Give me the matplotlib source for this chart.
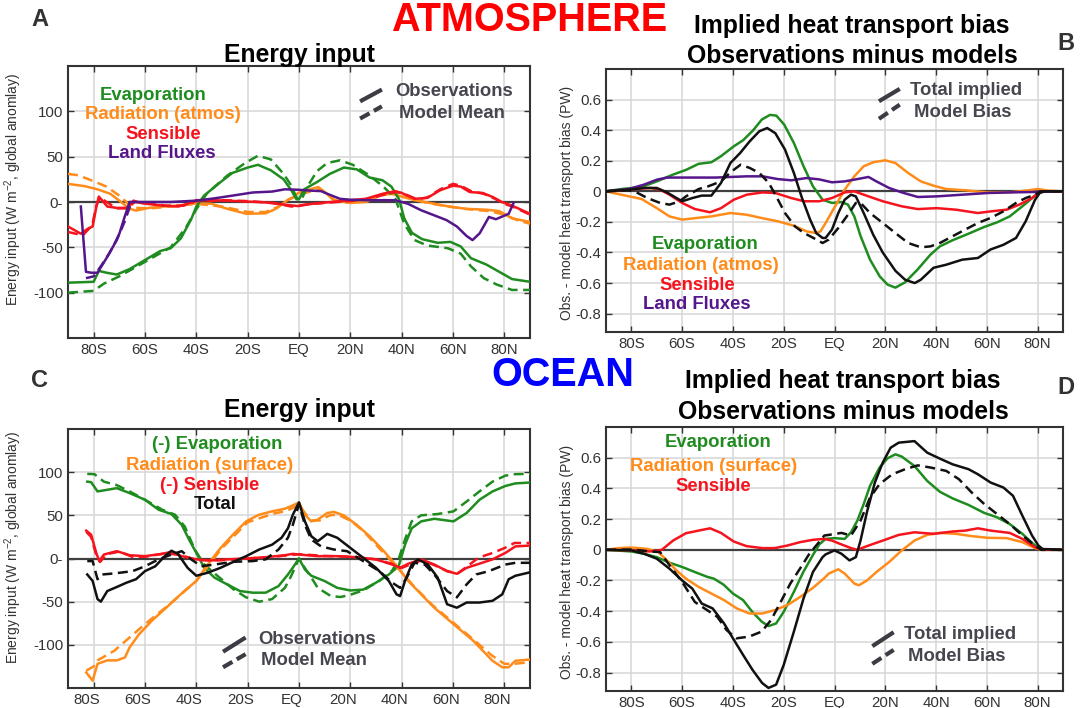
import matplotlib
matplotlib.use("Agg")
import matplotlib.pyplot as plt
import matplotlib.transforms as mtransforms

plt.rcParams['font.family'] = ['Liberation Sans', 'DejaVu Sans']
plt.rcParams['mathtext.fontset'] = 'custom'
plt.rcParams['mathtext.rm'] = 'Liberation Sans'
plt.rcParams['mathtext.it'] = 'Liberation Sans:italic'

GREEN = "#1f8c1f"
ORANGE = "#ff8c1a"
RED = "#f5141e"
PURPLE = "#55168c"
BLACK = "#111111"
GRAY = "#46464e"

lat_ticks = [-80, -60, -40, -20, 0, 20, 40, 60, 80]
lat_labels = ["80S", "60S", "40S", "20S", "EQ", "20N", "40N", "60N", "80N"]

# ---------------- Panel A : atmosphere energy input (W m-2) ----------------
A_evap_obs_lat = [-90, -80, -78, -75, -71, -66, -60, -54, -50, -46, -42, -40, -37, -31, -26, -20, -16, -11, -6, -3, -1, 0, 2,
                  7, 12, 17.5, 22.5, 27.5, 32.5, 36, 39, 41, 44, 48, 54, 59, 63, 67, 73, 78, 83, 90]
A_evap_obs = [-89, -88, -76, -78, -80, -74, -64, -54, -51, -40, -19, -5, 7, 21, 32, 38, 41, 35, 25, 13, 3, 3, 14,
              22, 31, 38, 36, 27, 24, 17, 3, -18, -34, -41, -45, -44, -49, -62, -69, -77, -85, -88]
A_evap_mod_lat = [-90, -80, -76, -70, -60, -50, -44, -40, -36, -28, -21, -16, -11, -6, -3, -1, 1, 3.5, 7, 11, 16, 21,
                  26.5, 32.5, 37.5, 41, 45, 50, 58, 63, 67, 72, 77, 83, 90]
A_evap_mod = [-100, -98, -90, -82, -66, -50, -28, -8, 9, 29, 43, 51, 47, 31, 18, 5, 3, 18, 34, 43, 46, 41,
              31, 18, 4, -24, -42, -48, -51, -57, -71, -84, -91, -97, -97]
A_rad_obs_lat = [-90, -83.5, -78.5, -73.5, -70, -66, -63.5, -58.5, -53, -47, -40, -34, -28, -20.5, -13, -9, -4.5, -2.5,
                 -0.3, 5, 7.5, 10, 13.5, 20, 26, 31, 36, 40, 45, 51, 57.5, 65, 73, 78, 83, 90]
A_rad_obs = [20, 17.5, 14, 9, 1.5, -7.5, -9.5, -6.5, -5, -4, -1.5, -2, -7.5, -13, -12.5, -7.5, 2, 4.5,
             10, 14.5, 16.5, 11, 2, -1, 0, 7, 9, 6, 2, -1, -4.5, -7.5, -8.5, -10, -18, -22]
A_rad_mod_lat = [-90, -86, -81, -75, -70, -66.5, -63.5, -58, -50, -40, -30, -20, -13, -8, -4, 0, 5, 8, 11, 14, 20,
                 27, 32, 37, 42, 50, 58, 66, 74, 80, 85, 90]
A_rad_mod = [31, 29.5, 24, 17, 7, -2, -6.5, -7, -5, -2, -5, -11, -11, -5, 3, 8, 12, 14, 9, 2, -1,
             1, 8, 11, 5, -1, -5, -8, -10, -14, -20, -24]
A_sens_obs_lat = [-90, -87.5, -85, -82.3, -80.4, -79, -78, -76.6, -74.7, -71, -67, -64.5, -61, -53, -47, -43.5, -40,
                  -34, -28, -20.5, -13, -5.5, -0.3, 5, 12.5, 20, 26, 32.5, 37.5, 40, 45, 50, 55, 60, 63, 66.5, 71.5,
                  75.5, 79, 83, 90]
A_sens_obs = [-27, -31, -35, -29.5, -27, -6, 6, 1.5, -5, -6.5, -6.5, 1.5, -1.5, -4, -5, -2, 2,
              2, 1.5, 0.5, -0.5, -3, -4.5, -2, 0, 2, 3.5, 9, 12, 10, 3.5, 4.5, 13, 18, 17, 11, 10,
              5.5, 0, -4, -13]
A_sens_mod_lat = [-90, -87, -84, -82, -80.5, -79, -77.5, -75, -71, -67, -64, -60, -52, -45, -40, -30, -20, -10, -3, 2,
                  10, 20, 28, 33, 38, 41, 46, 50, 55, 60, 63, 67, 72, 76, 80, 84, 90]
A_sens_mod = [-33, -35, -36, -30, -25, -4, 5, 0, -7, -7, 0, -1, -4, -4, 1, 2, 1, -1, -5, -3,
              -1, 1, 4, 8, 11, 9, 3, 5, 14, 20, 18, 12, 9, 4, -2, -6, -14]
A_land_obs_lat = [-85, -83, -81, -78.5, -74.7, -72.2, -70, -68, -66, -60, -50, -40, -33, -26, -18, -10.5, -5.5, -0.3,
                  4.8, 8.6, 12.4, 16, 20, 26, 32.5, 37.5, 42.5, 47.5, 52.5, 57.5, 61.5, 65.3, 67.6, 70.4, 74, 76.7,
                  79.2, 81.7, 83.6]
A_land_obs = [-5, -77, -78, -78, -60.5, -48, -35, -17, 0, 0, 0, 1.5, 4, 7, 10.5, 11.5, 14, 13.5,
              12.5, 12, 7.5, 3.5, 2.5, 2, 2, 2, -2, -9, -14.5, -20, -27, -37.5, -42, -34.5, -16.5, -19,
              -16, -13, -1]
A_land_mod_lat = [-83, -80, -77, -74, -71, -68, -65.5]
A_land_mod = [-84, -82, -70, -57, -42, -22, -2]

# ---------------- Panel B : atmosphere implied heat transport bias (PW) ----------------
B_evap_lat = [-90, -84, -76, -70, -63.5, -58.5, -53.5, -48.5, -44.7, -39.7, -36, -32, -28.6, -25.4, -22.9, -19.8, -16,
              -12.2, -8.5, -4.7, -1, 2.75, 5.3, 7.8, 10.3, 14, 17.8, 20.9, 24, 27.8, 32.8, 37.8, 41.5, 46.5, 52.8,
              59, 64, 69, 74, 79, 81, 83, 90]
B_evap = [0, 0.015, 0.028, 0.065, 0.11, 0.14, 0.18, 0.19, 0.23, 0.294, 0.334, 0.40, 0.47, 0.50, 0.495, 0.436, 0.316,
          0.164, 0.033, -0.055, -0.076, -0.07, -0.087, -0.164, -0.294, -0.447, -0.556, -0.61, -0.63, -0.595, -0.51,
          -0.414, -0.36, -0.32, -0.277, -0.233, -0.203, -0.164, -0.098, -0.028, -0.007, 0, 0]
B_rad_lat = [-90, -84, -76, -70, -65, -60, -54.7, -48.5, -41, -34.6, -28.6, -22.3, -16, -11, -7.2, -5.5, -3.5, 0.25,
             4, 7.8, 11.5, 15.25, 20, 24, 29, 34, 39, 44, 51.5, 60, 69, 76.5, 80, 84, 90]
B_rad = [0, -0.022, -0.05, -0.11, -0.164, -0.185, -0.175, -0.164, -0.142, -0.153, -0.175, -0.196, -0.225, -0.262,
         -0.273, -0.262, -0.207, -0.098, 0.011, 0.098, 0.164, 0.19, 0.203, 0.185, 0.12, 0.065, 0.037, 0.015, 0.007,
         -0.007, -0.007, 0.007, 0.015, 0.005, 0]
B_sens_lat = [-90, -84, -78.7, -72.4, -68.7, -65, -60, -55, -49, -44.7, -39.7, -34.6, -28.3, -23.3, -17, -12, -6, -1,
              4, 7.8, 11.5, 19, 26.5, 32.8, 40.3, 47.8, 56.5, 61.6, 67.8, 72.8, 77.8, 80.3, 83, 90]
B_sens = [0, 0.007, 0.015, 0.022, 0.011, -0.022, -0.076, -0.116, -0.137, -0.11, -0.055, -0.022, -0.007, -0.011,
          -0.044, -0.065, -0.065, -0.044, -0.007, 0, -0.022, -0.065, -0.098, -0.116, -0.11, -0.12, -0.142, -0.131,
          -0.12, -0.087, -0.044, -0.011, 0, 0]
B_land_lat = [-90, -81, -75, -70, -66, -60, -47, -34.6, -28.3, -22.3, -17, -11, -6, -1, 4, 9, 13.4, 16.5, 21.5, 26.5,
              32.8, 40.3, 50.3, 60.4, 69, 80, 90]
B_land = [0, 0.015, 0.044, 0.076, 0.09, 0.09, 0.09, 0.098, 0.098, 0.08, 0.072, 0.087, 0.078, 0.059, 0.065, 0.08,
          0.094, 0.065, 0.022, -0.007, -0.037, -0.033, -0.022, -0.011, -0.007, -0.004, 0]
B_tot_obs_lat = [-90, -81, -75, -70, -66, -62.2, -60, -56, -52.3, -48.5, -44.7, -41, -37.2, -33.4, -29.6, -26.5, -23.3,
                 -19.5, -16, -12.8, -9.6, -7.2, -4.7, -3.5, -1, 1.5, 4, 6.5, 8.4, 11.5, 15.25, 19, 24, 27.8, 31.6, 34,
                 39, 44, 50.3, 56.5, 61.5, 66.5, 71.5, 75.3, 79, 81, 83, 90]
B_tot_obs = [0, 0.011, 0.022, 0.022, -0.007, -0.044, -0.065, -0.044, -0.028, -0.028, 0.055, 0.185, 0.25, 0.327, 0.393,
             0.414, 0.38, 0.273, 0.12, -0.044, -0.185, -0.273, -0.305, -0.305, -0.25, -0.142, -0.055, -0.022, -0.033,
             -0.142, -0.284, -0.40, -0.52, -0.578, -0.6, -0.578, -0.5, -0.48, -0.447, -0.436, -0.38, -0.35, -0.305,
             -0.196, -0.055, -0.007, 0, 0]
B_tot_mod_lat = [-90, -81, -77.5, -73.7, -68.7, -65, -61, -58.5, -53.5, -49.7, -44.7, -41, -37, -33.4, -29.6, -25.9,
                 -23.3, -19.5, -15.6, -12, -8.3, -4.7, -2.3, 1.5, 5.3, 8.4, 10.3, 14, 19, 24, 29, 34, 37.8, 41.5, 46.5,
                 51.5, 56.5, 61.5, 66.5, 71.5, 75.3, 79, 81, 90]
B_tot_mod = [0, 0.007, -0.011, -0.044, -0.076, -0.087, -0.065, -0.033, 0.015, 0.033, 0.065, 0.124, 0.174, 0.153,
             0.12, 0.055, -0.022, -0.142, -0.229, -0.273, -0.305, -0.338, -0.316, -0.24, -0.153, -0.076, -0.076,
             -0.142, -0.207, -0.273, -0.338, -0.366, -0.36, -0.338, -0.294, -0.25, -0.207, -0.174, -0.131, -0.076,
             -0.044, -0.022, 0, 0]

# ---------------- Panel C : ocean energy input (W m-2) ----------------
C_evap_obs_lat = [-82.5, -81, -78.5, -74.7, -71, -66, -60, -54.7, -49.7, -45.7, -42.5, -40, -36.9, -33, -28, -23, -18,
                  -13, -8, -4.3, -2.5, 0, 2.3, 4.8, 9.9, 14.9, 20, 25, 30, 35, 38.8, 41.3, 43.9, 47.6, 52.7, 60.2,
                  65.3, 70.3, 75.4, 80.4, 84.3, 90]
C_evap_obs = [89, 88.5, 77.7, 79.6, 81.5, 75.8, 68, 56.5, 51.5, 39, 20, 6.5, -10.8, -22, -30, -37.7, -39.6,
              -39.6, -32, -18.5, -11, 0, -12.7, -20, -26, -34, -37, -36, -28, -18.5, -9, 16, 35, 43, 46, 43,
              52.7, 68, 77.7, 84, 87, 88]
C_evap_mod_lat = [-82.5, -79.7, -76, -71, -66, -60, -53.3, -48.3, -44.5, -40.6, -36.9, -31.8, -25.5, -20.6, -15.5,
                  -10.5, -5.5, -3, 0, 2.5, 4.8, 7.3, 12.4, 16.2, 20, 25, 31.3, 36.3, 38.8, 41.3, 43.9, 47.6, 54, 60.2,
                  65.3, 70.3, 75.4, 80.4, 84.3, 90]
C_evap_mod = [98, 97.7, 89, 85, 77.7, 68, 56.5, 50.7, 37, 10.4, -7, -20, -35.8, -45, -50,
              -47, -34, -20, 0, -12, -22, -34, -43.5, -44.6, -42, -37, -26, -14, -1, 22, 43, 50, 51.5, 54.6,
              66, 77.7, 89, 96, 97.7, 98]
C_rad_obs_lat = [-82.9, -80.4, -78.5, -74.7, -71, -67.8, -66, -62.3, -57.3, -51, -44.7, -40, -35.6, -30.6, -25.7,
                 -20.6, -15.6, -10.5, -5.5, -2.4, 0, 2.3, 4.8, 7.3, 11, 13.6, 17.4, 22.5, 27.5, 32.5, 37.6, 42.6,
                 47.6, 52.7, 60.2, 67.8, 75.4, 79.2, 81.7, 84.3, 90]
C_rad_obs = [-132, -141.5, -122, -118, -118, -114.6, -103, -87.7, -72, -55, -37.7, -26, -7, 12, 27.7,
             43, 50.7, 54.6, 57.7, 61.5, 65, 50.7, 43, 45, 52.7, 54, 50, 39, 25.8, 10.4, -7, -26,
             -41.5, -57, -76, -95, -118.5, -126, -126, -118.5, -117]
C_rad_mod_lat = [-82.9, -80, -78.5, -72, -66, -60, -50, -40, -30, -20, -10, -5, 0, 2.5, 5, 8, 12, 15, 20, 25, 30, 35,
                 40, 45, 52, 60, 68, 75, 80, 84, 90]
C_rad_mod = [-130, -125, -118, -107, -91.5, -76, -52, -26, 12, 42, 52, 55, 62, 52, 44, 44, 50, 51, 44, 32, 16, 0,
             -16, -33, -54, -74, -94, -112, -122, -122, -120]
C_sens_obs_lat = [-82.9, -81, -79, -77.8, -76, -71, -66, -60, -53.3, -49.7, -45.7, -40, -34.3, -28, -20.6, -13, -5.5,
                  -2.4, 0, 7.3, 14.9, 22.5, 30, 36.3, 39.4, 42.6, 47.6, 52.7, 57.7, 61.5, 65.3, 70.3, 75.4, 80.4,
                  84.3, 90]
C_sens_obs = [32.3, 27.7, 6.5, -3, 4.6, 8.5, 3.8, 2.7, 5.4, 7.7, 2.7, -1, -2.3, -1, 0, 1.5, 3.8,
              5.4, 4.6, 2.7, 2.7, 1.5, -1, -7, -10.8, -6, -1, -7, -14.6, -17.7, -10.8, -6, -1, 6.5,
              14, 15]
C_sens_mod_lat = [-82.9, -81, -79, -77.5, -75, -70, -65, -60, -52, -46, -40, -30, -20, -10, 0, 10, 20, 30, 36, 40, 44,
                  48, 53, 58, 62, 66, 70, 75, 80, 84, 90]
C_sens_mod = [31, 25, 4, -4, 5, 8, 2, 2, 6, 4, -2, -2, 0, 2, 5, 3, 2, -1, -6, -11, -6,
              -2, -8, -15, -17, -8, 1, 6, 12, 18, 18]
C_tot_obs_lat = [-82.5, -80.4, -78.5, -77.2, -74.7, -71, -67.2, -63.5, -60, -56, -52.3, -49.7, -47.2, -43.4, -40,
                 -35.6, -30.6, -25.5, -20.6, -15.5, -10.5, -6.8, -4.3, -2.4, 0, 2.3, 4.8, 7.3, 11, 14.9, 20, 25, 30,
                 35, 38, 39.4, 41.3, 43.9, 46.4, 50.2, 54, 57.7, 61.5, 65.3, 70.3, 75.4, 79.2, 81.7, 84.3, 90]
C_tot_obs = [-18.5, -26, -47, -50, -37.7, -33, -28, -24, -14.6, -9, 2.7, 9, 5.4, -10.8, -20,
             -16.5, -10.8, -3.8, 2.7, 10.4, 16, 24, 35, 50.7, 65, 43, 25.8, 20, 28.5, 24, 12.3, 0.8, -10.8,
             -26, -41.5, -43.5, -26, -7, -1, -7, -22, -53, -57, -51, -51, -49, -41.5, -24, -20, -16]
C_tot_mod_lat = [-82.5, -80.4, -78.5, -76.6, -73.5, -69.8, -64.8, -60, -54.7, -49.7, -45.7, -42, -38.1, -33, -25.5,
                 -18, -13, -8, -4.3, -2.4, 0, 2.3, 4.8, 8.6, 13.6, 18.7, 25, 31.3, 36.3, 39.4, 42, 45, 49, 52.7,
                 57.7, 61.5, 65.3, 69, 74, 80.4, 84.3, 90]
C_tot_mod = [-3, -3, -24, -18.5, -17.7, -16.5, -14.6, -9, -1, 4.6, 8.5, -1, -9, -7, -3.8,
             -3, -1, 10.4, 24, 39, 63, 39, 22, 14, 10.4, 8.5, -3, -14.6, -28, -34, -22, -5, -7, -18.5,
             -37.7, -45, -30, -18.5, -14.6, -7, -5, -5]

# ---------------- Panel D : ocean implied heat transport bias (PW) ----------------
D_evap_lat = [-90, -80, -75, -70, -65, -60, -55, -50, -47.5, -43.7, -40, -36, -32.4, -28.6, -26, -23, -20, -16, -12.3,
              -8.6, -6, -3.5, 0, 4, 6.5, 9, 11.5, 14, 17.75, 20.9, 24, 26.5, 31.5, 36.5, 41.5, 46.5, 52.8, 59, 64,
              69, 74, 77.8, 80.3, 81.4, 90]
D_evap = [0, -0.011, -0.026, -0.048, -0.084, -0.112, -0.145, -0.177, -0.188, -0.227, -0.285, -0.328, -0.404, -0.469,
          -0.497, -0.48, -0.404, -0.274, -0.145, -0.037, 0.035, 0.071, 0.076, 0.071, 0.114, 0.19, 0.298, 0.417,
          0.536, 0.596, 0.622, 0.607, 0.546, 0.449, 0.378, 0.335, 0.292, 0.24, 0.212, 0.168, 0.104, 0.045, 0.011,
          0, 0]
D_rad_lat = [-90, -85, -80, -73.7, -69.4, -66, -62.3, -58.5, -53.5, -48.5, -43.5, -38.5, -33.5, -28.5, -23.5, -18.5,
             -13.5, -8.5, -4, -2.25, 1.5, 4, 7.8, 9.6, 12.8, 16.5, 21.5, 26.5, 31.5, 36.5, 41.5, 47.8, 54, 60.4,
             67.8, 74, 79, 81.4, 90]
D_rad = [0, 0.011, 0.015, 0.006, -0.015, -0.069, -0.134, -0.188, -0.242, -0.285, -0.328, -0.382, -0.415, -0.415,
         -0.393, -0.36, -0.307, -0.248, -0.184, -0.155, -0.127, -0.155, -0.22, -0.231, -0.2, -0.145, -0.08, -0.004,
         0.06, 0.097, 0.11, 0.104, 0.089, 0.078, 0.076, 0.05, 0.011, 0, 0]
D_sens_lat = [-90, -80, -72.5, -68, -63.6, -58.5, -53.5, -49, -44.7, -39.7, -34.7, -28.5, -23.5, -18.5, -13.5, -8.5,
              -4, -1, 1.5, 6.5, 9, 12.8, 19, 25.3, 31.5, 39, 46.5, 51.5, 56.5, 61.5, 69, 74, 79, 81.4, 90]
D_sens = [0, -0.004, -0.011, 0, 0.06, 0.108, 0.125, 0.14, 0.11, 0.054, 0.024, 0.011, 0.011, 0.028, 0.05, 0.065,
          0.071, 0.06, 0.043, 0.011, 0, 0.024, 0.06, 0.097, 0.114, 0.104, 0.119, 0.125, 0.14, 0.125, 0.11, 0.071,
          0.017, 0, 0]
D_tot_obs_lat = [-90, -80, -75, -70, -65, -60, -56, -52.3, -48, -43.5, -40, -36, -32.3, -28.5, -26, -23, -20, -16,
                 -12.2, -8.5, -4.7, -3.5, 0, 2.75, 5.9, 8.4, 10.25, 12.75, 15.9, 19, 22.1, 25.3, 31.5, 36.5, 41.5,
                 46.5, 52.8, 56.5, 61.5, 66.5, 70.3, 74, 77.8, 80.3, 82, 90]
D_tot_obs = [0, -0.004, -0.026, -0.058, -0.123, -0.2, -0.253, -0.35, -0.382, -0.48, -0.577, -0.685, -0.782, -0.868,
             -0.9, -0.879, -0.75, -0.533, -0.317, -0.145, -0.048, -0.03, -0.004, -0.026, -0.069, -0.048, 0.06, 0.244,
             0.438, 0.568, 0.665, 0.698, 0.708, 0.633, 0.594, 0.557, 0.525, 0.492, 0.438, 0.406, 0.352, 0.222,
             0.093, 0.028, 0.005, 0]
D_tot_mod_lat = [-90, -80, -72.5, -68.7, -65, -60, -55, -51.2, -46.2, -42.5, -38.7, -33.7, -28.7, -25, -21.2, -17.4,
                 -13.6, -9.9, -6.1, -4, -2.25, 2.75, 6.5, 10.25, 14, 17.75, 22.75, 27.8, 32.8, 37.8, 44, 49, 54, 59,
                 64, 69, 74, 79, 81.4, 90]
D_tot_mod = [0, 0.002, -0.011, -0.015, -0.1, -0.21, -0.34, -0.382, -0.436, -0.523, -0.577, -0.566, -0.533, -0.458,
             -0.34, -0.22, -0.123, -0.026, 0.05, 0.093, 0.097, 0.11, 0.093, 0.19, 0.341, 0.428, 0.492, 0.525, 0.55,
             0.536, 0.514, 0.46, 0.374, 0.298, 0.233, 0.168, 0.093, 0.028, 0, 0]

W, H = 1083, 708
LW = 1.8
DASH = (4, 2.2)


def px_axes(left, top, right, bottom):
    return [left / W, 1 - bottom / H, (right - left) / W, (bottom - top) / H]


def style_axes(ax, ylim, yticks, yticklabels, ylabel, label_xy):
    ax.set_xlim(-90, 90)
    ax.set_ylim(ylim)
    ax.set_xticks(lat_ticks)
    ax.set_xticklabels(lat_labels)
    ax.set_yticks(yticks)
    ax.set_yticklabels(yticklabels)
    ax.grid(True, color="#d6d6d6", lw=1.1)
    ax.set_axisbelow(True)
    ax.axhline(0, color="#404040", lw=1.6, zorder=1.5)
    for sp in ax.spines.values():
        sp.set_color("#333333")
        sp.set_linewidth(1.5)
    ax.tick_params(direction="in", length=4, width=1, color="#333333", labelcolor="#333333",
                   top=True, right=True, labelsize=10.8, pad=3.5)
    ax.set_ylabel(ylabel, fontsize=10, color="#333333")
    ax.yaxis.set_label_coords(*label_xy)


def line(ax, x, y, color, dashed=False):
    if dashed:
        ax.plot(x, y, color=color, lw=LW, dashes=DASH, zorder=3)
    else:
        ax.plot(x, y, color=color, lw=LW, zorder=3)


def key(ax, x0, x1, ys, yd, ytext, labels, xtext):
    ax.plot([x0, x1], ys, color="#3c3c44", lw=3, solid_capstyle="butt", zorder=4)
    ax.plot([x0, x1], yd, color="#3c3c44", lw=3, dashes=(2.6, 1.2), dash_capstyle="butt", zorder=4)
    for xt, yt, t in zip(xtext, ytext, labels):
        ax.text(xt, yt, t, color=GRAY, fontsize=13.3, fontweight="bold", ha="center", va="center", zorder=5)


def names(ax, items):
    for x, y, t, c in items:
        ax.text(x, y, t, color=c, fontsize=13.3, fontweight="bold", ha="center", va="center", zorder=5)


fig = plt.figure(figsize=(W / 100, H / 100), dpi=100)
axA = fig.add_axes(px_axes(68, 66, 530, 338))
axB = fig.add_axes(px_axes(606, 69, 1063, 332))
axC = fig.add_axes(px_axes(68, 429, 530, 688))
axD = fig.add_axes(px_axes(606, 427, 1063, 691))

ei_label = "Energy input (W m$^{-2}$, global anomlay)"
ht_label = "Obs. - model heat transport bias (PW)"
ei_ticks = [-100, -50, 0, 50, 100]
ei_ticklabels = ["-100", "-50", "0-", "50", "100"]
ht_ticks = [-0.8, -0.6, -0.4, -0.2, 0, 0.2, 0.4, 0.6]
ht_ticklabels = ["-0.8", "-0.6", "-0.4", "-0.2", "0", "0.2", "0.4", "0.6"]

style_axes(axA, (-150, 150), ei_ticks, ei_ticklabels, ei_label, (-0.095, 0.548))
style_axes(axC, (-150, 150), ei_ticks, ei_ticklabels, ei_label, (-0.095, 0.542))
style_axes(axB, (-0.92, 0.8), ht_ticks, ht_ticklabels, ht_label, (-0.071, 0.489))
style_axes(axD, (-0.92, 0.8), ht_ticks, ht_ticklabels, ht_label, (-0.071, 0.49))

# panel A
line(axA, A_rad_mod_lat, A_rad_mod, ORANGE, True)
line(axA, A_rad_obs_lat, A_rad_obs, ORANGE)
line(axA, A_evap_mod_lat, A_evap_mod, GREEN, True)
line(axA, A_evap_obs_lat, A_evap_obs, GREEN)
line(axA, A_sens_mod_lat, A_sens_mod, RED, True)
line(axA, A_sens_obs_lat, A_sens_obs, RED)
line(axA, A_land_mod_lat, A_land_mod, PURPLE, True)
line(axA, A_land_obs_lat, A_land_obs, PURPLE)
names(axA, [(-57, 117, "Evaporation", GREEN), (-53, 96, "Radiation (atmos)", ORANGE),
            (-53, 74, "Sensible", RED), (-53.4, 53, "Land Fluxes", PURPLE)])
key(axA, 23.8, 32.3, [111, 124], [92, 105.5], [122, 98], ["Observations", "Model Mean"], [60.6, 59.4])

# panel B
line(axB, B_evap_lat, B_evap, GREEN)
line(axB, B_rad_lat, B_rad, ORANGE)
line(axB, B_sens_lat, B_sens, RED)
line(axB, B_land_lat, B_land, PURPLE)
line(axB, B_tot_mod_lat, B_tot_mod, BLACK, True)
line(axB, B_tot_obs_lat, B_tot_obs, BLACK)
names(axB, [(-51, -0.348, "Evaporation", GREEN), (-52.6, -0.487, "Radiation (atmos)", ORANGE),
            (-54.2, -0.617, "Sensible", RED), (-54.2, -0.739, "Land Fluxes", PURPLE)])
key(axB, 17.5, 25.7, [0.589, 0.67], [0.474, 0.567], [0.659, 0.517], ["Total implied", "Model Bias"], [52, 50.7])

# panel C
line(axC, C_evap_mod_lat, C_evap_mod, GREEN, True)
line(axC, C_evap_obs_lat, C_evap_obs, GREEN)
line(axC, C_rad_mod_lat, C_rad_mod, ORANGE, True)
line(axC, C_rad_obs_lat, C_rad_obs, ORANGE)
line(axC, C_sens_mod_lat, C_sens_mod, RED, True)
line(axC, C_sens_obs_lat, C_sens_obs, RED)
line(axC, C_tot_mod_lat, C_tot_mod, BLACK, True)
line(axC, C_tot_obs_lat, C_tot_obs, BLACK)
names(axC, [(-31.8, 131.5, "(-) Evaporation", GREEN), (-35, 107.3, "Radiation (surface)", ORANGE),
            (-35, 84, "(-) Sensible", RED), (-32.8, 62.3, "Total", BLACK)])
key(axC, -29.6, -20.8, [-108, -91.5], [-126, -110.8], [-94, -118.5], ["Observations", "Model Mean"], [7.2, 6])

# panel D
line(axD, D_evap_lat, D_evap, GREEN)
line(axD, D_rad_lat, D_rad, ORANGE)
line(axD, D_sens_lat, D_sens, RED)
line(axD, D_tot_mod_lat, D_tot_mod, BLACK, True)
line(axD, D_tot_obs_lat, D_tot_obs, BLACK)
names(axD, [(-46, 0.702, "Evaporation", GREEN), (-47.8, 0.543, "Radiation (surface)", ORANGE),
            (-47.8, 0.413, "Sensible", RED)])
key(axD, 14.9, 23.3, [-0.628, -0.537], [-0.743, -0.652], [-0.552, -0.696], ["Total implied", "Model Bias"], [49.6, 48])

# panel C tick labels sit a little left of the grid lines in the original
shift = mtransforms.ScaledTranslation(-7 / 100, 0, fig.dpi_scale_trans)
for lbl in axC.get_xticklabels():
    lbl.set_transform(lbl.get_transform() + shift)


# titles and headers
def ftext(x, y, s, **kw):
    fig.text(x / W, 1 - y / H, s, **kw)


ftext(529, 20, "ATMOSPHERE", color="#ff0000", fontsize=28.5, fontweight="bold", ha="center", va="center")
ftext(563, 375, "OCEAN", color="#0000ff", fontsize=28.5, fontweight="bold", ha="center", va="center")
ftext(299, 62, "Energy input", color="black", fontsize=17.8, fontweight="bold", ha="center", va="baseline")
ftext(299, 417, "Energy input", color="black", fontsize=17.8, fontweight="bold", ha="center", va="baseline")
ftext(852, 33, "Implied heat transport bias", color="black", fontsize=17.8, fontweight="bold", ha="center", va="baseline")
ftext(852, 63, "Observations minus models", color="black", fontsize=17.8, fontweight="bold", ha="center", va="baseline")
ftext(843, 388, "Implied heat transport bias", color="black", fontsize=17.8, fontweight="bold", ha="center", va="baseline")
ftext(843, 419, "Observations minus models", color="black", fontsize=17.8, fontweight="bold", ha="center", va="baseline")
ftext(40, 19, "A", color="#333333", fontsize=17, fontweight="bold", ha="center", va="center")
ftext(1066, 43, "B", color="#333333", fontsize=17, fontweight="bold", ha="center", va="center")
ftext(40, 380, "C", color="#333333", fontsize=17, fontweight="bold", ha="center", va="center")
ftext(1066, 388, "D", color="#333333", fontsize=17, fontweight="bold", ha="center", va="center")

fig.savefig("out.png", dpi=100)
